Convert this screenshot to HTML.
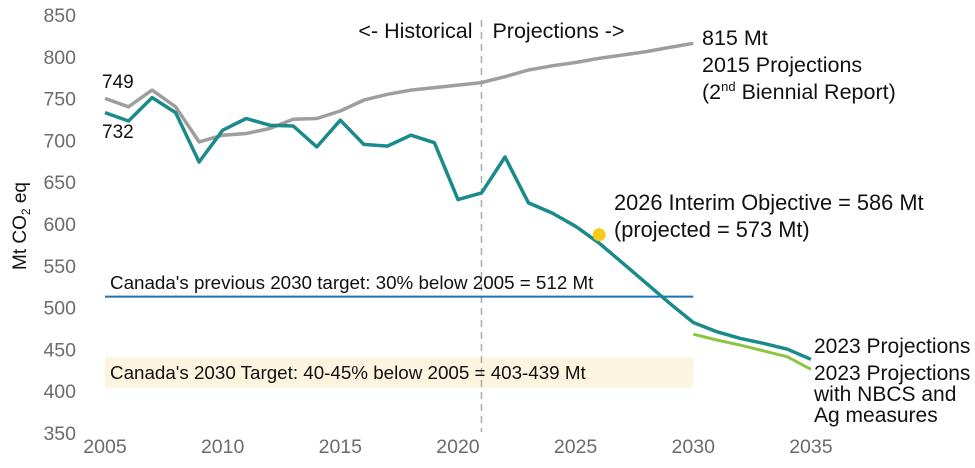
<!DOCTYPE html>
<html><head><meta charset="utf-8"><style>
body{margin:0;background:#fff}
svg{display:block;font-family:"Liberation Sans",Arial,sans-serif}
</style></head><body>
<svg id="chart" width="975" height="468" viewBox="0 0 975 468" xmlns="http://www.w3.org/2000/svg">
<g id="g"></g>
</svg>
<script>
const yTicks=[350,400,450,500,550,600,650,700,750,800,850];
const xTicks=[2005,2010,2015,2020,2025,2030,2035];
const tealYears=[2005,2006,2007,2008,2009,2010,2011,2012,2013,2014,2015,2016,2017,2018,2019,2020,2021,2022,2023,2024,2025,2026,2027,2028,2029,2030,2031,2032,2033,2034,2035];
const tealVals=[732,722,750,732,673,711,725,717,716,691,723,694,692,705,696,628,636,679,624,612,596,576,552,528,504,481,470,462,456,449,437];
const grayYears=[2005,2006,2007,2008,2009,2010,2011,2012,2013,2014,2015,2016,2017,2018,2019,2020,2021,2022,2023,2024,2025,2026,2027,2028,2029,2030];
const grayVals=[749,739,759,739,697,705,707,713,724,725,734,747,754,759,762,765,768,775,783,788,792,797,801,805,810,815];
const greenYears=[2030,2031,2032,2033,2034,2035];
const greenVals=[467,460,454,447,440,425];
const prevTarget=512;
const targetRange=[403,439];
const interim=[2026,586];
const splitYear=2021;

const NS="http://www.w3.org/2000/svg";
const g=document.getElementById('g');
const X=yr=>105+(yr-2005)*23.53;
const Y=v=>14+(850-v)*0.836;
function el(t,a,p){const e=document.createElementNS(NS,t);for(const k in a)e.setAttribute(k,a[k]);(p||g).appendChild(e);return e;}
function txt(s,x,y,a){const e=el('text',Object.assign({x:x,y:y},a));e.textContent=s;return e;}

let b=el('rect',{x:X(2005),y:Y(targetRange[1]),width:X(2030)-X(2005),height:Y(targetRange[0])-Y(targetRange[1]),fill:'#fdf4e0'});


yTicks.forEach(v=>{const t=txt(v,76,Y(v)+8,{'font-size':19.5,fill:'#6b6b6b','text-anchor':'end'});

});
xTicks.forEach(v=>{const t=txt(v,X(v),453,{'font-size':19.5,fill:'#6b6b6b','text-anchor':'middle'});

});
const yt=el('text',{transform:'translate(26,226) rotate(-90)','font-size':19,fill:'#111','text-anchor':'middle'});
yt.innerHTML='Mt CO<tspan font-size="12" dy="4">2</tspan><tspan dy="-4"> eq</tspan>';


let sl=el('line',{x1:X(splitYear),x2:X(splitYear),y1:20,y2:Y(350),stroke:'#aaa','stroke-width':1.5,'stroke-dasharray':'7,5'});


let h=txt('<- Historical',X(splitYear)-9,38,{'font-size':21.5,fill:'#111','text-anchor':'end'});


let pj=txt('Projections ->',X(splitYear)+11,38,{'font-size':21.5,fill:'#111'});


let pl=el('line',{x1:X(2005),x2:X(2030),y1:Y(prevTarget),y2:Y(prevTarget),stroke:'#1f72b8','stroke-width':2});


let pt=txt("Canada's previous 2030 target: 30% below 2005 = 512 Mt",110,289,{'font-size':18.8,fill:'#111'});


let tt=txt("Canada's 2030 Target: 40-45% below 2005 = 403-439 Mt",110,379,{'font-size':18.8,fill:'#111'});


function line(ys,vs,c,w,n){const d=ys.map((y,i)=>(i?'L':'M')+X(y).toFixed(1)+','+Y(vs[i]).toFixed(1)).join('');
const p=el('path',{d:d,fill:'none',stroke:c,'stroke-width':w,'stroke-linejoin':'round'});

}
line(grayYears,grayVals,'#9e9e9e',3.5,'projections-2015-line');
line(greenYears,greenVals,'#8cc63f',3,'projections-nbcs-line');
line(tealYears,tealVals,'#1a8a8a',3.5,'projections-2023-line');
let dot=el('circle',{cx:X(interim[0]),cy:Y(interim[1]),r:6.5,fill:'#f5cb1a'});


function lbl(lines,x,y,n,dy,fs){const t=el('text',{x:x,y:y,'font-size':fs,fill:'#111'});lines.forEach((s,i)=>{const ts=el('tspan',{x:x,dy:i?dy:0},t);ts.innerHTML=s;});

}
txt('749',102,88,{'font-size':19,fill:'#111'});
txt('732',102,138,{'font-size':19,fill:'#111'});
lbl(['815 Mt','2015 Projections','(2<tspan font-size="13" dy="-8">nd</tspan><tspan dy="8"> Biennial Report)</tspan>'],702,45,'projections-2015-label',27,21.5);
lbl(['2026 Interim Objective = 586 Mt','(projected = 573 Mt)'],614,210,'interim-objective-label',27,21.8);
lbl(['2023 Projections'],814,353,'projections-2023-label',0,21);
lbl(['2023 Projections','with NBCS and','Ag measures'],814,380,'projections-nbcs-label',21,21);
</script>
</body></html>
